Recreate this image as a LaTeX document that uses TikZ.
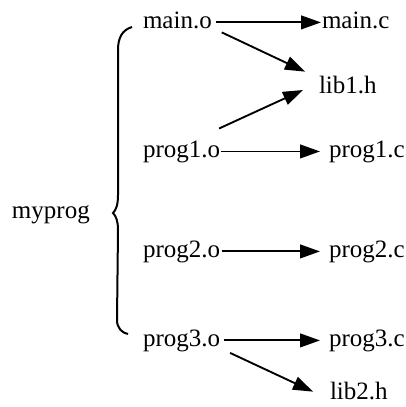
\documentclass[tikz,border=0pt]{standalone}
\usepackage{fontspec}
\setmainfont{Liberation Serif}
\usetikzlibrary{arrows.meta}
\begin{document}
\begin{tikzpicture}[x=0.4pt,y=-0.4pt,
  lbl/.style={anchor=base west,inner sep=0pt,outer sep=0pt,font=\fontsize{10}{12}\selectfont},
  arr/.style={line width=0.75pt,-{Triangle[length=8pt,width=5.5pt]}},
  brace/.style={line width=0.8pt}]
\useasboundingbox (0,0) rectangle (406,407);
\node[lbl] (my) at (12,218) {myprog};
\node[lbl] (mo) at (143,28) {main.o};
\node[lbl] (mc) at (322,28) {main.c};
\node[lbl] (l1) at (319,93) {lib1.h};
\node[lbl] (p1o) at (143,157) {prog1.o};
\node[lbl] (p1c) at (329,157) {prog1.c};
\node[lbl] (p2o) at (143,257) {prog2.o};
\node[lbl] (p2c) at (329,257) {prog2.c};
\node[lbl] (p3o) at (143,346) {prog3.o};
\node[lbl] (p3c) at (329,346) {prog3.c};
\node[lbl] (l2) at (330,399) {lib2.h};
% brace
\draw[brace] (132,27) .. controls (122,30) and (118,38) .. (118,50) -- (118,195)
  .. controls (118,205) and (116,210) .. (113,213)
  .. controls (116,216) and (118,221) .. (118,230) -- (117,320)
  .. controls (117,328) and (122,333) .. (128,334);
% arrows
\draw[arr] ([shift={(4,2.5)}]mo.east) -- ([shift={(-1,2.5)}]mc.west);
\draw[arr] ([shift={(10,4)}]mo.south east) -- ([shift={(-14,-4)}]l1.north west);
\draw[arr] ([shift={(-1,-12)}]p1o.north east) -- ([shift={(-16,5.5)}]l1.west);
\draw[arr,shorten <=0.2pt,shorten >=3.6pt] (p1o.east) -- (p1c.west);
\draw[arr,shorten <=0.8pt,shorten >=3.6pt] (p2o.east) -- (p2c.west);
\draw[arr,shorten <=1.6pt,shorten >=3.6pt] (p3o.east) -- (p3c.west);
\draw[arr] ([shift={(10,1.5)}]p3o.south east) -- ([shift={(-17,10)}]l2.north west);
\end{tikzpicture}
\end{document}
